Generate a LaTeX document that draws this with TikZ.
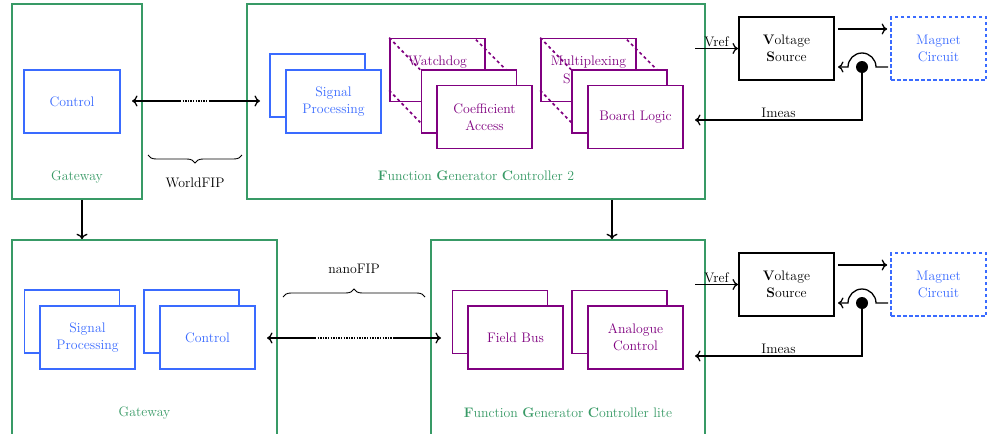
\documentclass[tikz,border=0pt]{standalone}
\usetikzlibrary{decorations.pathreplacing,arrows.meta}
\definecolor{fgreen}{RGB}{56,154,102}
\definecolor{fblue}{RGB}{58,107,255}
\definecolor{fpurple}{RGB}{128,0,128}
\begin{document}
\begin{tikzpicture}[x=1pt,y=-1pt,
  >={Computer Modern Rightarrow[length=5.5pt, width=11pt]},
  every node/.style={font=\fontsize{13.8}{17}\selectfont, align=center},
  gbox/.style={draw=fgreen, line width=1.6pt, inner sep=0pt},
  glabel/.style={text=fgreen},
  card/.style={minimum width=95pt, minimum height=63pt, fill=white, line width=1.7pt, inner sep=0pt},
  bcard/.style={card, draw=fblue, text=fblue},
  pcard/.style={card, draw=fpurple, text=fpurple},
  vsbox/.style={card, draw=black, line width=2pt},
  magbox/.style={card, draw=fblue, text=fblue, dash pattern=on 3.5pt off 2.5pt},
  arr/.style={->, line width=1.3pt},
  larr/.style={<-, line width=1.3pt},
  dots/.style={line width=1.3pt, dash pattern=on 1.3pt off 1.3pt},
  hid/.style={draw=fpurple, line width=1.7pt, dash pattern=on 3pt off 3pt},
  brc/.style={decorate, decoration={brace, amplitude=8pt}, line width=0.9pt},
]
\useasboundingbox (0,0) rectangle (989,434);
\clip (0,0) rectangle (989,434);

% ---------- containers ----------
\node[gbox, minimum width=130pt, minimum height=195pt] (gw1) at (77,101.5) {};
\node[gbox, minimum width=458pt, minimum height=195pt] (fgc2) at (476,101.5) {};
\node[gbox, minimum width=265pt, minimum height=240pt] (gw2) at (144.5,360) {};
\node[gbox, minimum width=274pt, minimum height=240pt] (fgcl) at (568,360) {};

\node[glabel] (gw1l) at (77,177) {Gateway};
\node[glabel] (fgc2l) at (476,176) {\textbf{F}unction \textbf{G}enerator \textbf{C}ontroller 2};
\node[glabel] (gw2l) at (144.5,413) {Gateway};
\node[glabel] (fgcll) at (568,413) {\textbf{F}unction \textbf{G}enerator \textbf{C}ontroller lite};

% ---------- top gateway ----------
\node[bcard, minimum width=96pt] (ctl1) at (72,101.5) {Control};

% ---------- FGC2 ----------
\node[bcard] (sp1b) at (317.5,85.5) {};
\node[bcard] (sp1f) at (333.5,101.5) {Signal\\Processing};

\node[pcard] (wdb) at (437.5,70) {};
\node[text=fpurple] (wdt) at (437.5,62) {Watchdog};
\draw[hid] (wdb.north west) -- ([shift={(31,32)}]wdb.north west);
\draw[hid] ([shift={(-10,2)}]wdb.north east) -- ([shift={(20,32)}]wdb.north east);
\draw[hid] ([shift={(0,-12)}]wdb.south west) -- ([shift={(31,20)}]wdb.south west);
\node[pcard] (wdm) at (469,101.5) {};
\node[pcard] (wdf) at (484.5,117) {Coefficient\\Access};

\node[pcard] (mxb) at (588.5,70) {};
\node[text=fpurple] (mxt) at (588.5,62) {Multiplexing};
\node[text=fpurple, anchor=west, inner sep=0pt] (mxs) at (563,79) {S};
\draw[hid] (mxb.north west) -- ([shift={(31,32)}]mxb.north west);
\draw[hid] ([shift={(-10,2)}]mxb.north east) -- ([shift={(20,32)}]mxb.north east);
\draw[hid] ([shift={(0,-12)}]mxb.south west) -- ([shift={(31,20)}]mxb.south west);
\node[pcard] (mxm) at (619.5,101.5) {};
\node[pcard] (mxf) at (635.5,117) {Board Logic};

% ---------- WorldFIP link ----------
\coordinate (w1) at (132,101);
\coordinate (w2) at (180,101);
\coordinate (w3) at (210,101);
\coordinate (w4) at (260,101);
\draw[larr] (w1) -- (w2);
\draw[dots] (w2) -- (w3);
\draw[arr] (w3) -- (w4);
\coordinate (b1a) at (242,155);
\coordinate (b1b) at (148,155);
\draw[brc] (b1a) -- (b1b);
\node (wfip) at (195,183) {WorldFIP};

% ---------- bottom gateway ----------
\node[bcard] (sp2b) at (72,321.5) {};
\node[bcard] (sp2f) at (87.5,337.5) {Signal\\Processing};
\node[bcard] (ctl2b) at (191.5,321.5) {};
\node[bcard] (ctl2f) at (207.5,337.5) {Control};

% ---------- FGC lite ----------
\node[pcard] (fbb) at (500,322) {};
\node[pcard] (fbf) at (515.5,337.5) {Field Bus};
\node[pcard] (acb) at (619.5,322) {};
\node[pcard] (acf) at (635.5,337.5) {Analogue\\Control};

% ---------- nanoFIP link ----------
\coordinate (n1) at (267,338);
\coordinate (n2) at (315,338);
\coordinate (n3) at (393,338);
\coordinate (n4) at (441,338);
\draw[larr] (n1) -- (n2);
\draw[dots] (n2) -- (n3);
\draw[arr] (n3) -- (n4);
\coordinate (b2a) at (283,297);
\coordinate (b2b) at (425,297);
\draw[brc] (b2a) -- (b2b);
\node (nfip) at (354,269) {nanoFIP};

% ---------- vertical links ----------
\coordinate (d1) at (82,0);
\coordinate (d2) at (612,0);
\draw[arr] (gw1.south -| d1) -- (gw2.north -| d1);
\draw[arr] (fgc2.south -| d2) -- (fgcl.north -| d2);

% ---------- top power loop ----------
\node[vsbox] (vs1) at (786.5,48.5) {\textbf{V}oltage\\\textbf{S}ource};
\node[magbox] (mag1) at (938.5,48.5) {Magnet\\Circuit};
\coordinate (vr1) at (695,48.5);
\draw[arr] (vr1) -- node[above, inner sep=1.5pt] (vref1) {Vref} (vs1.west);
\draw[arr] ([shift={(3,-19.5)}]vs1.east) -- ([shift={(-3,-19.5)}]mag1.west);
\coordinate (j1) at (862,67);
\draw[arr] ([shift={(-2,18.5)}]mag1.west) -- ([shift={(14,0)}]j1)
   arc[start angle=0, end angle=-180, radius=14] -- ([shift={(3,18.5)}]vs1.east);
\fill (j1) circle[radius=6];
\coordinate (im1) at (695,120);
\draw[arr] (j1) |- node[pos=0.75, above, inner sep=1.5pt] (imeas1) {Imeas} (im1);

% ---------- bottom power loop ----------
\node[vsbox] (vs2) at (786.5,284.5) {\textbf{V}oltage\\\textbf{S}ource};
\node[magbox] (mag2) at (938.5,284.5) {Magnet\\Circuit};
\coordinate (vr2) at (695,284.5);
\draw[arr] (vr2) -- node[above, inner sep=1.5pt] (vref2) {Vref} (vs2.west);
\draw[arr] ([shift={(3,-19.5)}]vs2.east) -- ([shift={(-3,-19.5)}]mag2.west);
\coordinate (j2) at (862,303);
\draw[arr] ([shift={(-2,18.5)}]mag2.west) -- ([shift={(14,0)}]j2)
   arc[start angle=0, end angle=-180, radius=14] -- ([shift={(3,18.5)}]vs2.east);
\fill (j2) circle[radius=6];
\coordinate (im2) at (695,356);
\draw[arr] (j2) |- node[pos=0.75, above, inner sep=1.5pt] (imeas2) {Imeas} (im2);
\end{tikzpicture}
\end{document}
